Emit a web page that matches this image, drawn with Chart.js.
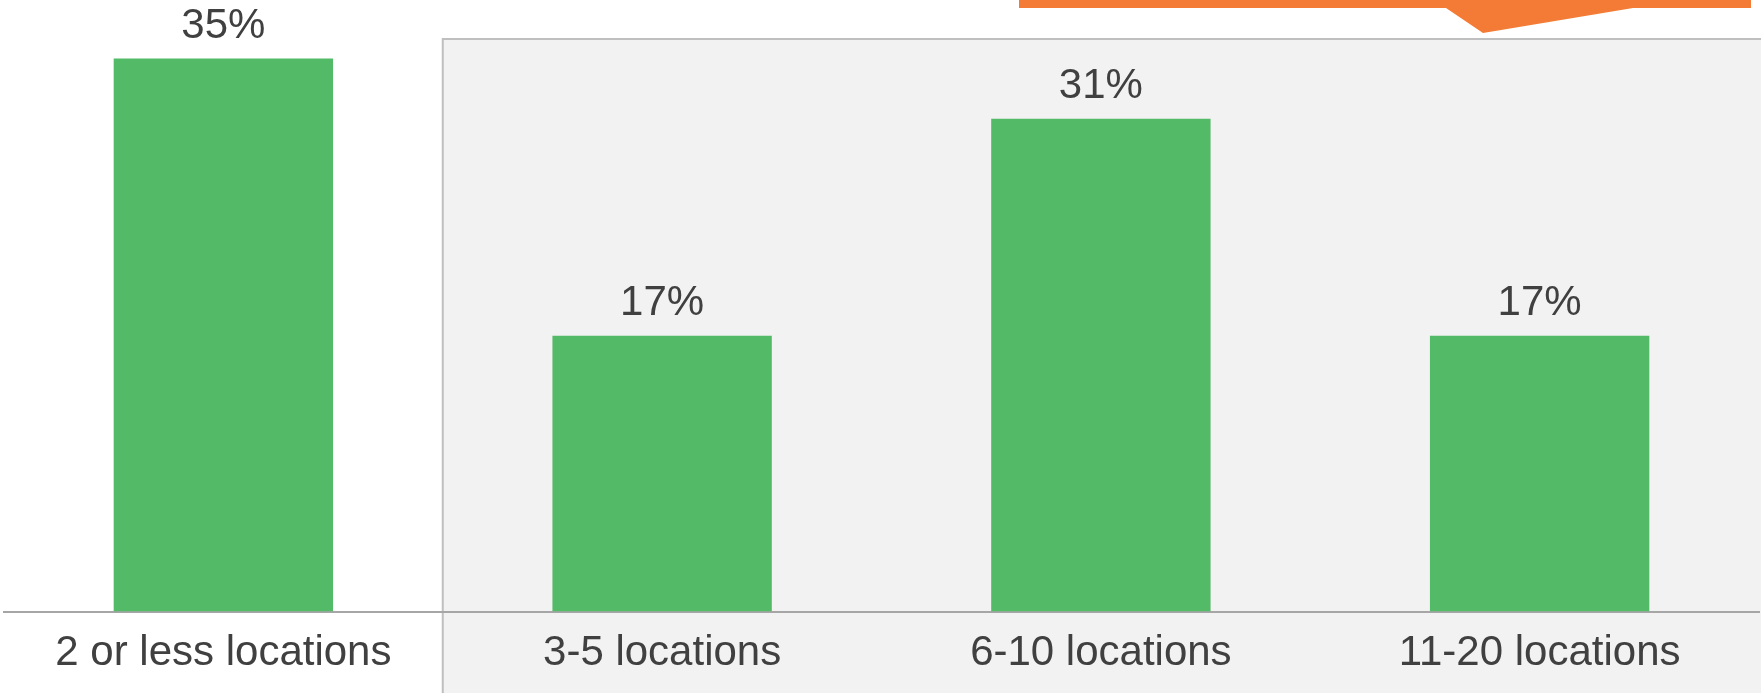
<!DOCTYPE html>
<html>
<head>
<meta charset="utf-8">
<script src="https://cdn.jsdelivr.net/npm/chart.js@4/dist/chart.umd.min.js"></script>
<style>
  body { margin: 0; background: #fff; }
  #wrap { width: 1761px; height: 693px; position: relative; }
</style>
</head>
<body>
<div id="wrap"><canvas id="locChart"></canvas></div>
<script>
const categories = ['2 or less locations', '3-5 locations', '6-10 locations', '11-20 locations'];
const shareValues = [34.9, 17.4, 31.1, 17.4];

const green = '#53BA67';
const textColor = '#404040';

// shaded panel behind the 3+ location groups, plus the orange callout at the top
const backdrop = {
    id: 'backdrop',
    beforeDraw(chart) {
        const ctx = chart.ctx;
        const x = chart.scales.x;
        const left = (x.getPixelForValue(0) + x.getPixelForValue(1)) / 2;
        ctx.save();
        ctx.fillStyle = '#F2F2F2';
        ctx.fillRect(left, 38, chart.width - left, chart.height - 38);
        ctx.strokeStyle = '#BFBFBF';
        ctx.lineWidth = 2;
        ctx.beginPath();
        ctx.moveTo(left, chart.height);
        ctx.lineTo(left, 39);
        ctx.lineTo(chart.width, 39);
        ctx.stroke();

        ctx.fillStyle = '#F47B35';
        ctx.beginPath();
        ctx.moveTo(1019, 0);
        ctx.lineTo(1751, 0);
        ctx.lineTo(1751, 8);
        ctx.lineTo(1633, 8);
        ctx.lineTo(1483, 33);
        ctx.lineTo(1446, 8);
        ctx.lineTo(1019, 8);
        ctx.closePath();
        ctx.fill();
        ctx.restore();
    }
};

// value labels above each bar
const barLabels = {
    id: 'barLabels',
    afterDatasetsDraw(chart) {
        const ctx = chart.ctx;
        const meta = chart.getDatasetMeta(0);
        ctx.save();
        ctx.font = '42px "Liberation Sans", Arial, sans-serif';
        ctx.fillStyle = textColor;
        ctx.textAlign = 'center';
        ctx.textBaseline = 'alphabetic';
        meta.data.forEach((bar, i) => {
            const v = chart.data.datasets[0].data[i];
            ctx.fillText(Math.round(v) + '%', bar.x, bar.y - 21);
        });
        ctx.restore();
    }
};

new Chart(document.getElementById('locChart'), {
    type: 'bar',
    data: {
        labels: categories,
        datasets: [{
            data: shareValues,
            backgroundColor: green,
            borderWidth: 0,
            barPercentage: 1,
            categoryPercentage: 0.5
        }]
    },
    options: {
        responsive: true,
        maintainAspectRatio: false,
        animation: false,
        layout: { padding: { left: 4, right: 2, top: 0, bottom: 0 } },
        plugins: {
            legend: { display: false },
            tooltip: { enabled: false }
        },
        scales: {
            x: {
                grid: { display: false, drawTicks: false },
                border: { display: true, color: '#A6A6A6', width: 2 },
                ticks: {
                    color: textColor,
                    padding: 17,
                    maxRotation: 0,
                    font: { family: '"Liberation Sans", Arial, sans-serif', size: 42 }
                },
                afterFit(scale) {
                    scale.height = 81.5;
                }
            },
            y: {
                display: false,
                min: 0,
                max: 38.6
            }
        }
    },
    plugins: [backdrop, barLabels]
});
</script>
</body>
</html>
